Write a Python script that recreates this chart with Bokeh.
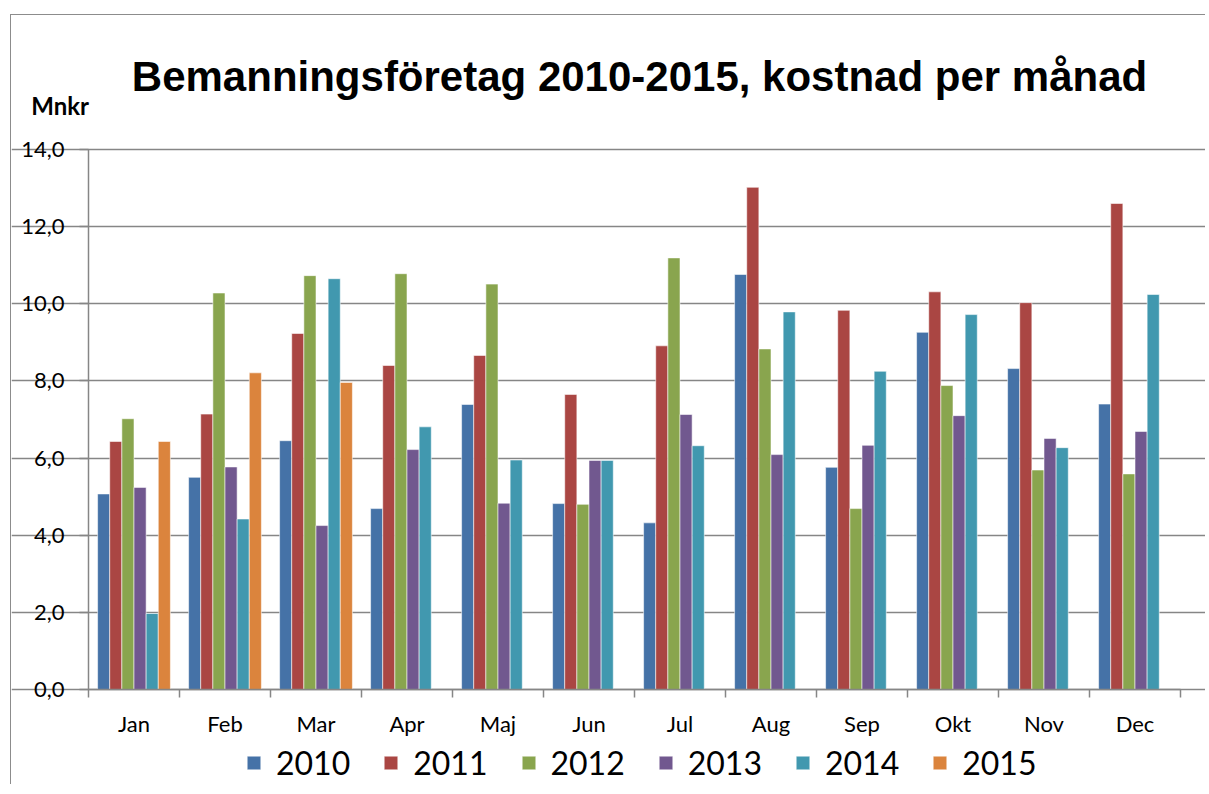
from bokeh.plotting import figure
from bokeh.models import Range1d, FixedTicker, Label, Legend, LegendItem, ColumnDataSource
from bokeh.embed import file_html
from bokeh.resources import INLINE

# ---- data ----
months = ["Jan", "Feb", "Mar", "Apr", "Maj", "Jun", "Jul", "Aug", "Sep", "Okt", "Nov", "Dec"]
years = ["2010", "2011", "2012", "2013", "2014", "2015"]
v2010 = [5.07, 5.50, 6.45, 4.69, 7.39, 4.82, 4.32, 10.76, 5.76, 9.26, 8.32, 7.40]
v2011 = [6.43, 7.14, 9.23, 8.40, 8.66, 7.65, 8.91, 13.02, 9.83, 10.31, 10.03, 12.60]
v2012 = [7.02, 10.28, 10.73, 10.78, 10.51, 4.80, 11.19, 8.83, 4.69, 7.88, 5.69, 5.59]
v2013 = [5.24, 5.77, 4.25, 6.22, 4.83, 5.94, 7.13, 6.09, 6.33, 7.10, 6.51, 6.69]
v2014 = [1.97, 4.42, 10.65, 6.81, 5.95, 5.94, 6.32, 9.79, 8.25, 9.72, 6.27, 10.24]
v2015 = [6.43, 8.21, 7.96, None, None, None, None, None, None, None, None, None]
y_ticks = [0, 2, 4, 6, 8, 10, 12, 14]
y_tick_labels = ["0,0", "2,0", "4,0", "6,0", "8,0", "10,0", "12,0", "14,0"]
title_text = "Bemanningsföretag 2010-2015, kostnad per månad"
unit_text = "Mnkr"

series = [v2010, v2011, v2012, v2013, v2014, v2015]
colors = ["#4572A7", "#AA4643", "#89A54E", "#71588F", "#4198AF", "#DB843D"]

W, H = 1195, 770
PX_X = 91.0          # pixels per month
PX_Y = 540.0 / 14.0  # pixels per Mnkr
X0 = -77.0 / PX_X
Y1 = 674.0 / PX_Y

p = figure(width=W, height=H, output_backend="svg", toolbar_location=None,
           x_range=Range1d(X0, X0 + W / PX_X), y_range=Range1d(Y1 - H / PX_Y, Y1),
           min_border=0)
p.styles = {"margin-left": "10px", "margin-top": "14px",
            "border-left": "1px solid #8c8c8c", "border-top": "1px solid #8c8c8c"}
p.outline_line_color = None
p.background_fill_color = "white"
p.border_fill_color = "white"

n = len(series)
gap = 1.5
bw = 1.0 / (n + gap)
items = []
for i, (vals, col, yr) in enumerate(zip(series, colors, years)):
    xs, tops = [], []
    for j, v in enumerate(vals):
        if v is None:
            continue
        xs.append(j + 0.5 + (i - (n - 1) / 2) * bw)
        tops.append(v)
    src = ColumnDataSource(dict(x=xs, top=tops))
    r = p.vbar(x="x", top="top", bottom=0, width=bw, source=src,
               fill_color=col, line_color="white", line_alpha=0.55, line_width=1)
    items.append(LegendItem(label=yr, renderers=[r]))

# x axis: labels at centres, ticks at category boundaries
xa = p.xaxis[0]
xa.fixed_location = 0
xa.bounds = (0, 12)
xa.ticker = FixedTicker(ticks=[j + 0.5 for j in range(12)], minor_ticks=list(range(13)))
xa.major_label_overrides = {j + 0.5: m for j, m in enumerate(months)}
xa.major_tick_line_color = None
xa.major_tick_out = 8
xa.major_tick_in = 0
xa.minor_tick_out = 8
xa.minor_tick_in = 0
xa.minor_tick_line_color = "#868686"
xa.minor_tick_line_width = 1.5
xa.axis_line_color = "#868686"
xa.axis_line_width = 1.5
xa.major_label_text_font = "Lato"
xa.major_label_text_font_size = "22px"
xa.major_label_text_color = "black"
xa.major_label_standoff = 12

ya = p.yaxis[0]
ya.fixed_location = 0
ya.bounds = (0, 14)
ya.ticker = FixedTicker(ticks=y_ticks, minor_ticks=[])
ya.major_label_overrides = {t: l for t, l in zip(y_ticks, y_tick_labels)}
ya.major_tick_out = 9
ya.major_tick_in = 0
ya.major_tick_line_color = "#868686"
ya.major_tick_line_width = 1.5
ya.axis_line_color = "#868686"
ya.axis_line_width = 1.5
ya.major_label_text_font = "Lato"
ya.major_label_text_font_size = "22px"
ya.major_label_text_color = "black"
ya.major_label_standoff = 15

p.xgrid.grid_line_color = None
p.ygrid.ticker = FixedTicker(ticks=y_ticks)
p.ygrid.bounds = (0, 12)
p.ygrid.grid_line_color = "#868686"
p.ygrid.grid_line_width = 1.5

p.add_layout(Label(x=6.055, y=(689 - 76) / PX_Y, text=title_text, text_align="center",
                   text_baseline="middle", text_font="Liberation Sans",
                   text_font_style="bold", text_font_size="42px", text_color="black"))
p.add_layout(Label(x=-0.63, y=(689 - 105) / PX_Y, text=unit_text, text_align="left",
                   text_baseline="middle", text_font="Lato",
                   text_font_style="bold", text_font_size="24px", text_color="black"))

legend = Legend(items=items, orientation="horizontal", location=(234, 3),
                label_text_font="Lato", label_text_font_size="32px", label_text_color="black",
                glyph_width=17, glyph_height=17, label_standoff=14, spacing=32,
                padding=0, margin=0, border_line_color=None, background_fill_alpha=0)
p.add_layout(legend, "center")

open("out.html", "w").write(file_html(p, INLINE))
